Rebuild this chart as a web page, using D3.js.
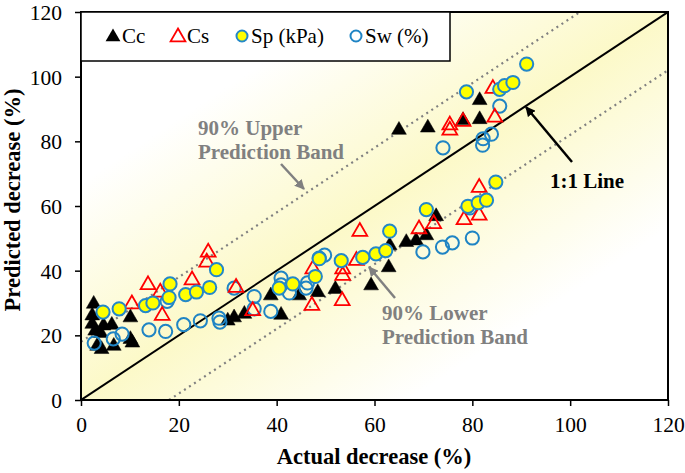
<!DOCTYPE html>
<html><head><meta charset="utf-8">
<script src="https://cdn.jsdelivr.net/npm/d3@7"></script>
<style>
html,body{margin:0;padding:0;background:#fff;}
svg text{font-family:"Liberation Serif","Times New Roman",Tinos,"DejaVu Serif",serif !important;}
</style></head>
<body>
<svg id="chart" width="685" height="473"></svg>
<script>
// ---- data (actual %, predicted %) ----
const seriesNames = ["Cc", "Cs", "Sp (kPa)", "Sw (%)"];
const xTicks = [0, 20, 40, 60, 80, 100, 120];
const yTicks = [0, 20, 40, 60, 80, 100, 120];
const bandOffset = 18;

const ccData = [[2.6,30.0],[2.3,26.4],[2.3,23.8],[2.9,21.7],[4.6,23.3],[4.0,21.0],[3.3,17.0],[4.2,16.0],[6.3,23.5],[6.7,17.0],[10.1,25.8],[10.1,19.1],[10.5,18.0],[30.0,24.8],[31.3,25.8],[33.4,26.9],[38.8,32.6],[40.9,26.6],[44.6,32.6],[48.4,33.6],[52.0,34.6],[59.3,35.7],[62.9,41.3],[63.1,48.1],[66.5,49.1],[68.5,49.6],[70.6,51.2],[72.6,57.1],[65.0,83.8],[70.9,84.5],[78.1,86.8],[81.5,87.1],[81.5,93.0]];
const csData = [[10.4,30.0],[13.7,35.9],[16.2,33.6],[16.6,26.4],[22.7,37.4],[25.7,42.9],[26.0,46.0],[31.7,35.1],[35.1,27.9],[47.2,29.5],[47.4,40.8],[53.4,31.0],[53.5,38.8],[53.5,40.8],[56.3,43.4],[57.0,52.4],[69.1,53.2],[72.1,54.8],[78.3,56.0],[81.4,57.4],[81.4,66.0],[75.4,83.7],[75.4,85.3],[78.1,86.4],[84.6,87.7],[84.2,96.6]];
const spData = [[4.5,27.2],[7.8,28.2],[13.2,29.2],[14.7,30.0],[18.0,31.7],[18.2,35.9],[21.4,32.6],[23.6,33.4],[26.3,34.8],[27.7,40.3],[40.5,34.6],[43.3,35.9],[47.9,38.2],[48.7,43.7],[53.2,43.1],[57.6,44.1],[60.3,45.2],[62.3,46.2],[63.1,52.2],[70.6,58.9],[79.1,59.9],[81.2,61.0],[82.9,61.8],[84.8,67.4],[78.8,95.3],[85.6,96.1],[86.6,97.2],[88.3,98.2],[91.1,103.9]];
const swData = [[2.7,17.6],[6.6,18.9],[8.4,20.4],[13.9,21.7],[17.3,21.2],[17.6,30.5],[21.0,23.3],[24.4,24.5],[28.2,25.3],[28.4,24.1],[31.3,34.6],[35.4,32.0],[35.4,28.2],[38.8,27.4],[40.9,37.7],[40.9,35.6],[42.6,33.1],[46.0,34.6],[46.3,36.2],[48.7,43.9],[49.8,44.8],[69.9,45.8],[73.9,47.3],[75.9,48.6],[80.0,50.1],[79.5,59.4],[74.0,78.0],[82.1,78.8],[82.2,80.8],[83.9,82.2],[85.6,90.9]];

const FONT = '"Liberation Serif","Times New Roman",Tinos,"DejaVu Serif",serif';
const svg = d3.select("#chart").attr("font-family", FONT);
const L = 81, R = 668, T = 12, B = 400;
const x = d3.scaleLinear().domain([0,120]).range([L,R]);
const y = d3.scaleLinear().domain([0,120]).range([B,T]);

const defs = svg.append("defs");
const grad = defs.append("linearGradient").attr("id","bg")
  .attr("x1",0).attr("y1",0).attr("x2",1).attr("y2",1);
grad.append("stop").attr("offset",0.22).attr("stop-color","#ffffff");
grad.append("stop").attr("offset",0.5).attr("stop-color","#fcf9c8");
grad.append("stop").attr("offset",0.78).attr("stop-color","#ffffff");
const clip = defs.append("clipPath").attr("id","clip");
clip.append("rect").attr("x",L).attr("y",T).attr("width",R-L).attr("height",B-T);

svg.append("rect").attr("x",L).attr("y",T).attr("width",R-L).attr("height",B-T).attr("fill","url(#bg)");

const g = svg.append("g").attr("clip-path","url(#clip)");
// prediction bands
[bandOffset, -bandOffset].forEach(o => {
  g.append("line")
    .attr("x1", x(Math.max(0,-o))).attr("y1", y(Math.max(0,-o)+o))
    .attr("x2", x(Math.min(120,120-o))).attr("y2", y(Math.min(120,120-o)+o))
    .attr("stroke","#808080").attr("stroke-width",2.2).attr("stroke-dasharray","2,4");
});
// 1:1 line
g.append("line").attr("x1",x(0)).attr("y1",y(0)).attr("x2",x(120)).attr("y2",y(120))
  .attr("stroke","#000").attr("stroke-width",2);

// axes
const xAxis = d3.axisBottom(x).tickValues(xTicks).tickSize(6).tickPadding(11);
const yAxis = d3.axisLeft(y).tickValues(yTicks).tickSize(6).tickPadding(13);
const gx = svg.append("g").attr("transform",`translate(0,${B})`).call(xAxis);
const gy = svg.append("g").attr("transform",`translate(${L},0)`).call(yAxis);
[gx,gy].forEach(a=>{
  a.attr("font-family", FONT).attr("font-size",21.5);
  a.select(".domain").remove();
  a.selectAll("line").attr("stroke","#000").attr("stroke-width",1.5);
  a.selectAll("text").attr("font-family",FONT).attr("font-size",21.5).attr("fill","#000");
});
gy.selectAll("text").attr("dy","0.35em");

// frame
svg.append("rect").attr("x",L).attr("y",T).attr("width",R-L).attr("height",B-T)
  .attr("fill","none").attr("stroke","#000").attr("stroke-width",2);

// markers
const tri = d3.symbol().type(d3.symbolTriangle).size(95);
const pts = svg.append("g");
function triangles(data, fill, stroke, sw){
  pts.selectAll(null).data(data).enter().append("path")
    .attr("d", tri).attr("transform", d=>`translate(${x(d[0])},${y(d[1])+1})`)
    .attr("fill",fill).attr("stroke",stroke).attr("stroke-width",sw);
}
function circles(data, fill, stroke){
  pts.selectAll(null).data(data).enter().append("circle")
    .attr("cx", d=>x(d[0])).attr("cy", d=>y(d[1])).attr("r",6.6)
    .attr("fill",fill).attr("stroke",stroke).attr("stroke-width",2);
}
triangles(ccData, "#000", "#000", 0.5);
circles(swData, "none", "#1f84c4");
triangles(csData, "none", "#ff0000", 1.8);
circles(spData, "#ffff00", "#2388c8");

// legend
const lg = svg.append("g");
lg.append("rect").attr("x",81).attr("y",12).attr("width",369).attr("height",49)
  .attr("fill","#fff").attr("stroke","#000").attr("stroke-width",1.5);
const ly = 36;
lg.append("path").attr("d",tri).attr("transform",`translate(113,${ly+1})`).attr("fill","#000");
lg.append("path").attr("d",tri).attr("transform",`translate(178,${ly+1})`).attr("fill","none").attr("stroke","#f00").attr("stroke-width",1.8);
lg.append("circle").attr("cx",242).attr("cy",ly).attr("r",5.5).attr("fill","#ff0").attr("stroke","#2388c8").attr("stroke-width",2);
lg.append("circle").attr("cx",356).attr("cy",ly).attr("r",5.5).attr("fill","none").attr("stroke","#1f84c4").attr("stroke-width",2);
const lx = [122, 187, 251, 365];
seriesNames.forEach((n,i)=>{
  lg.append("text").attr("x",lx[i]).attr("y",ly+7).attr("font-size",21).attr("fill","#000").text(n);
});

// axis titles
svg.append("text").attr("x",374).attr("y",464).attr("text-anchor","middle")
  .attr("font-size",22.5).attr("font-weight","bold").text("Actual decrease (%)");
svg.append("text").attr("transform","translate(20,200) rotate(-90)").attr("text-anchor","middle")
  .attr("font-size",22.5).attr("font-weight","bold").text("Predicted decrease (%)");

// annotations
defs.append("marker").attr("id","ag").attr("viewBox","0 0 10 10").attr("refX",9).attr("refY",5)
  .attr("markerWidth",4).attr("markerHeight",4).attr("orient","auto")
  .append("path").attr("d","M0,0L10,5L0,10z").attr("fill","#808080");
defs.append("marker").attr("id","ak").attr("viewBox","0 0 10 10").attr("refX",9).attr("refY",5)
  .attr("markerWidth",4).attr("markerHeight",4).attr("orient","auto")
  .append("path").attr("d","M0,0L10,5L0,10z").attr("fill","#000");

const ann = svg.append("g").attr("font-weight","bold").attr("font-size",21);
ann.append("text").attr("x",198).attr("y",135).attr("fill","#808080").text("90% Upper");
ann.append("text").attr("x",198).attr("y",159).attr("fill","#808080").text("Prediction Band");
ann.append("line").attr("x1",281).attr("y1",164).attr("x2",304).attr("y2",189)
  .attr("stroke","#808080").attr("stroke-width",2.5).attr("marker-end","url(#ag)");
ann.append("text").attr("x",382).attr("y",320).attr("fill","#808080").text("90% Lower");
ann.append("text").attr("x",382).attr("y",344).attr("fill","#808080").text("Prediction Band");
ann.append("line").attr("x1",395).attr("y1",298).attr("x2",369).attr("y2",267)
  .attr("stroke","#808080").attr("stroke-width",2.5).attr("marker-end","url(#ag)");
ann.append("text").attr("x",550).attr("y",188).attr("fill","#000").text("1:1 Line");
ann.append("line").attr("x1",572).attr("y1",162).attr("x2",526).attr("y2",107)
  .attr("stroke","#000").attr("stroke-width",2.5).attr("marker-end","url(#ak)");
</script>
</body></html>
